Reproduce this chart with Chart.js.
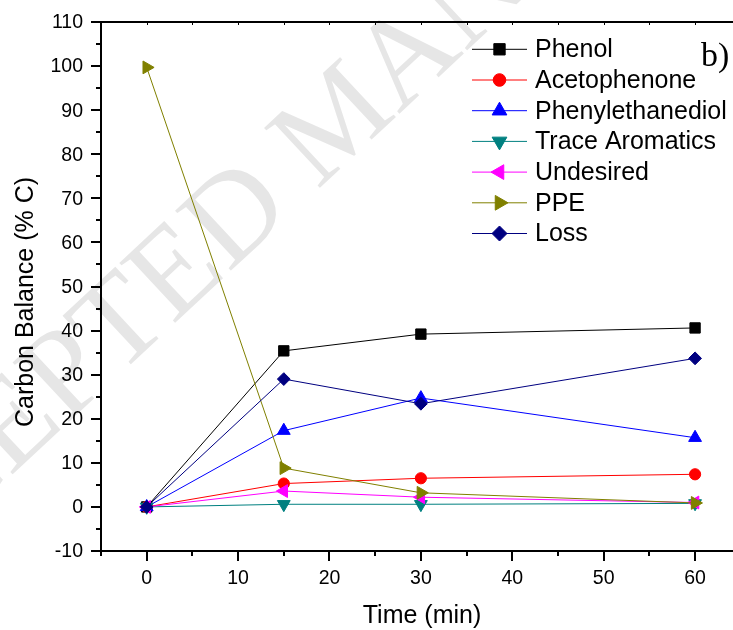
<!DOCTYPE html>
<html>
<head>
<meta charset="utf-8">
<script src="https://cdn.jsdelivr.net/npm/chart.js@4.4.1/dist/chart.umd.min.js"></script>
<style>
html, body { margin: 0; padding: 0; background: #fff; }
#wrap { width: 733px; height: 630px; }
</style>
</head>
<body>
<div id="wrap"><canvas id="cb" width="733" height="630"></canvas></div>
<script>
// time points (min)
const times = [0, 15, 30, 60];
// carbon balance (% C) per product
const phenol = [0, 35.4, 39.2, 40.6];
const acetophenone = [0, 5.3, 6.5, 7.4];
const phenylethanediol = [0, 17.3, 24.7, 15.7];
const traceAromatics = [0, 0.6, 0.6, 0.8];
const undesired = [0, 3.6, 2.2, 1.0];
const ppe = [99.7, 8.8, 3.2, 0.9];
const loss = [0, 29.0, 23.4, 33.7];

const seriesNames = ['Phenol', 'Acetophenone', 'Phenylethanediol', 'Trace Aromatics', 'Undesired', 'PPE', 'Loss'];
const seriesValues = [phenol, acetophenone, phenylethanediol, traceAromatics, undesired, ppe, loss];
const seriesColors = ['#000000', '#ff0000', '#0000ff', '#008080', '#ff00ff', '#808000', '#000080'];
const seriesMarkers = ['rect', 'circle', 'triangle', 'triangle', 'triangle', 'triangle', 'rectRot'];
const markerRotation = [0, 0, 0, 180, -90, 90, 0];
const markerRadius = [7.3, 5.6, 7.4, 7.4, 7.4, 7.4, 6.4];
const legendRadius = [8, 6.3, 8.5, 8.5, 8.5, 8.5, 7.5];

const xTickLabels = [0, 10, 20, 30, 40, 50, 60];
const yTickLabels = [-10, 0, 10, 20, 30, 40, 50, 60, 70, 80, 90, 100, 110];

const sans = '"Liberation Sans", Arial, sans-serif';
const serif = '"Liberation Serif", "Times New Roman", serif';

const datasets = [];
for (let i = 0; i < seriesNames.length; i++) {
    datasets.push({
        label: seriesNames[i],
        data: times.map((t, j) => ({ x: t, y: seriesValues[i][j] })),
        borderColor: seriesColors[i],
        backgroundColor: seriesColors[i],
        borderWidth: 1,
        pointStyle: seriesMarkers[i],
        pointRotation: markerRotation[i],
        pointRadius: markerRadius[i],
        pointBorderWidth: 1,
        pointHoverRadius: markerRadius[i],
        tension: 0,
        order: seriesNames.length - 1 - i
    });
}

// white page + faint watermark behind everything
const pagePlugin = {
    id: 'page',
    beforeDraw(chart) {
        const ctx = chart.ctx;
        ctx.save();
        ctx.fillStyle = '#ffffff';
        ctx.fillRect(0, 0, chart.width, chart.height);
        ctx.translate(-178, 652);
        ctx.rotate(-43 * Math.PI / 180);
        ctx.font = '125px ' + serif;
        ctx.fillStyle = '#e6e6e6';
        ctx.textBaseline = 'alphabetic';
        ctx.fillText('ACCEPTED MANUSCRIPT', 0, 0);
        ctx.restore();
    }
};

// axis ticks, labels, titles, legend
const decorPlugin = {
    id: 'decor',
    afterDraw(chart) {
        const ctx = chart.ctx;
        const a = chart.chartArea;
        const xs = chart.scales.x, ys = chart.scales.y;
        ctx.save();
        ctx.strokeStyle = '#000';
        ctx.fillStyle = '#000';

        // frame lines
        ctx.lineWidth = 2;
        ctx.beginPath();
        ctx.moveTo(a.left, a.top); ctx.lineTo(a.right, a.top);
        ctx.moveTo(a.left, a.top - 1); ctx.lineTo(a.left, a.bottom + 1);
        ctx.moveTo(a.left - 1, a.bottom); ctx.lineTo(a.right, a.bottom);
        ctx.stroke();

        // x ticks (major every 10, minor every 5)
        for (let v = -5; v <= 60; v += 5) {
            const px = Math.round(xs.getPixelForValue(v));
            const len = (v % 10 === 0) ? 10 : 5;
            ctx.lineWidth = 2;
            ctx.beginPath();
            ctx.moveTo(px, a.bottom); ctx.lineTo(px, a.bottom + len);
            ctx.stroke();
            ctx.lineWidth = 1;
            ctx.beginPath();
            ctx.moveTo(px + 0.5, a.top); ctx.lineTo(px + 0.5, a.top + 3);
            ctx.stroke();
        }
        // y ticks
        ctx.lineWidth = 2;
        for (let v = -10; v <= 110; v += 5) {
            const py = Math.round(ys.getPixelForValue(v));
            const len = (v % 10 === 0) ? 10 : 5;
            ctx.beginPath();
            ctx.moveTo(a.left, py); ctx.lineTo(a.left - len, py);
            ctx.stroke();
        }

        // tick labels
        ctx.font = '19.5px ' + sans;
        ctx.textAlign = 'center';
        ctx.textBaseline = 'alphabetic';
        xTickLabels.forEach(v => {
            ctx.fillText(String(v), xs.getPixelForValue(v), 584);
        });
        ctx.textAlign = 'right';
        ctx.textBaseline = 'middle';
        yTickLabels.forEach(v => {
            ctx.fillText(String(v), a.left - 18, ys.getPixelForValue(v) + 1);
        });

        // axis titles
        ctx.font = '25px ' + sans;
        ctx.textAlign = 'center';
        ctx.textBaseline = 'alphabetic';
        ctx.fillText('Time (min)', 422, 623);
        ctx.save();
        ctx.translate(33, 302);
        ctx.rotate(-Math.PI / 2);
        ctx.fillText('Carbon Balance (% C)', 0, 0);
        ctx.restore();

        // panel tag
        ctx.font = '34px ' + serif;
        ctx.textAlign = 'left';
        ctx.fillText('b)', 701, 66);

        // legend
        ctx.font = '25px ' + sans;
        ctx.textBaseline = 'middle';
        chart.data.datasets.forEach((ds, i) => {
            const y = 49.3 + i * 30.7;
            ctx.strokeStyle = ds.borderColor;
            ctx.lineWidth = 1;
            ctx.beginPath();
            ctx.moveTo(472, y); ctx.lineTo(527, y);
            ctx.stroke();
            ctx.fillStyle = ds.backgroundColor;
            Chart.helpers.drawPoint(ctx, {
                pointStyle: ds.pointStyle,
                rotation: ds.pointRotation,
                radius: legendRadius[i],
                borderWidth: 1
            }, 499.5, y);
            ctx.fillStyle = '#000';
            ctx.textAlign = 'left';
            ctx.fillText(ds.label, 535, y + 1);
        });
        ctx.restore();
    }
};

new Chart(document.getElementById('cb'), {
    type: 'line',
    data: { datasets: datasets },
    options: {
        responsive: false,
        animation: false,
        events: [],
        layout: { autoPadding: false, padding: { left: 0, top: 22, right: 0, bottom: 0 } },
        plugins: {
            legend: { display: false },
            title: { display: false },
            tooltip: { enabled: false }
        },
        scales: {
            x: {
                type: 'linear',
                min: -5,
                max: 64.15,
                grid: { display: false },
                border: { display: false },
                ticks: { display: false },
                afterFit(scale) { scale.height = 79; }
            },
            y: {
                type: 'linear',
                min: -10,
                max: 110,
                grid: { display: false },
                border: { display: false },
                ticks: { display: false },
                afterFit(scale) { scale.width = 101; }
            }
        }
    },
    plugins: [pagePlugin, decorPlugin]
});
</script>
</body>
</html>
